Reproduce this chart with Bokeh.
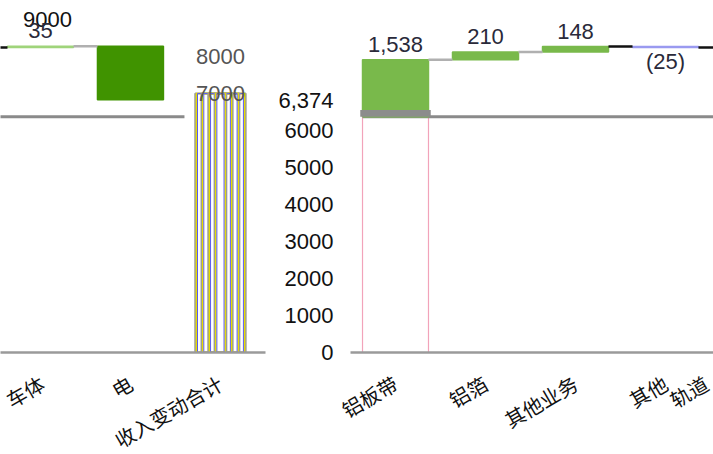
import math
from bokeh.plotting import figure
from bokeh.layouts import row
from bokeh.models import Range1d, FixedTicker, ColumnDataSource, LabelSet
from bokeh.core.properties import value
from bokeh.embed import file_html
from bokeh.resources import INLINE

# ---------------- data ----------------
categories = ["铝板带", "铝箔", "其他业务", "其他", "轨道交通车体", "电"]
changes = [1538, 210, 148, -25, 35, -1450]
change_labels = ["1,538", "210", "148", "(25)", "35", ""]
start_value = 6374
start_label = "6,374"
total_category = "收入变动合计"
total_value = 7000
y_ticks_right = [0, 1000, 2000, 3000, 4000, 5000, 6000]
y_ticks_left = [7000, 8000, 9000]
# the wrapped category is split across the two pieces
wrapped_left_part = "车体"
wrapped_right_part = "轨道"

# ---------------- styles ----------------
bar_colors = ["#79b94b", "#79b94b", "#79b94b", "#9a9af0", "#9fd47a", "#409300"]
connector_colors = ["#b0b0b0", "#b0b0b0", "#111111", "#111111", "#b0b0b0"]
BAR_W = 0.733
NUM_FONT = "Liberation Sans"
CJK_FONT = "Noto Sans CJK SC"
START_LABEL_LIFT = 440   # start label sits a little above the start value

# ---------------- derived ----------------
n = len(categories)
xs = list(range(n))
total_x = n
wrap_idx = categories.index("轨道交通车体")
bottoms, tops, running_after = [], [], []
run = start_value
for c in changes:
    nxt = run + c
    bottoms.append(min(run, nxt))
    tops.append(max(run, nxt))
    running_after.append(nxt)
    run = nxt

lab_y, lab_off = [], []
for i, c in enumerate(changes):
    if c >= 0:
        lab_y.append(tops[i]); lab_off.append(8)
    else:
        lab_y.append(bottoms[i]); lab_off.append(-27)


def bar_source(idx):
    return ColumnDataSource(dict(x=[xs[i] for i in idx], top=[tops[i] for i in idx],
                                 bottom=[bottoms[i] for i in idx],
                                 color=[bar_colors[i] for i in idx]))


def label_source(idx):
    return ColumnDataSource(dict(x=[xs[i] for i in idx], y=[lab_y[i] for i in idx],
                                 text=[change_labels[i] for i in idx],
                                 yoff=[lab_off[i] for i in idx]))


def conn_source(idx):
    return ColumnDataSource(dict(x0=[i + BAR_W / 2 for i in idx],
                                 x1=[i + 1 - BAR_W / 2 for i in idx],
                                 y=[running_after[i] for i in idx],
                                 color=[connector_colors[i] for i in idx]))


def draw_common(p, idx, cidx):
    p.segment(x0=-BAR_W / 2, x1=categories.index("电") + 0.6, y0=start_value, y1=start_value,
              line_color="#8a8a8a", line_width=3)
    p.vbar(x="x", top="top", bottom="bottom", width=BAR_W, fill_color="color",
           line_color="color", line_width=1.5, source=bar_source(idx))
    p.segment(x0="x0", x1="x1", y0="y", y1="y", line_color="color", line_width=2.5,
              source=conn_source(cidx))
    p.add_layout(LabelSet(x="x", y="y", text="text", y_offset="yoff", source=label_source(idx),
                          text_font=value(NUM_FONT), text_font_size="22px",
                          text_color="#2a2a3a", text_align="center", text_baseline="bottom"))


def style_x_axis(p, ticks, labels):
    ax = p.xaxis[0]
    ax.ticker = FixedTicker(ticks=ticks)
    ax.major_label_overrides = labels
    ax.major_label_orientation = math.pi / 6
    ax.major_label_text_font = CJK_FONT
    ax.major_label_text_font_size = "20px"
    ax.major_label_text_color = "#111111"
    ax.major_label_standoff = 29
    ax.major_tick_line_color = None
    ax.major_tick_out = 0
    ax.major_tick_in = 0
    ax.minor_tick_line_color = None
    ax.axis_line_color = "#9a9a9a"
    ax.axis_line_width = 2.5


Y_RANGE_END = 9514
FRAME_H = 352
L_FRAME_W = 265
R_FRAME_W = 363
L_START = 3.556
R_START = -0.5
R_END = R_START + R_FRAME_W / 90

pl = figure(output_backend="svg", toolbar_location=None,
            x_range=Range1d(L_START, L_START + L_FRAME_W / 90), y_range=Range1d(0, Y_RANGE_END),
            frame_width=L_FRAME_W, frame_height=FRAME_H, y_axis_location=None,
            min_border_left=0, min_border_right=10, min_border_top=0, min_border_bottom=0)
pr = figure(output_backend="svg", toolbar_location=None,
            x_range=Range1d(R_START, R_END), y_range=Range1d(0, Y_RANGE_END),
            frame_width=R_FRAME_W, frame_height=FRAME_H,
            min_border_left=72, min_border_right=0, min_border_top=0, min_border_bottom=0)

for p in (pl, pr):
    p.outline_line_color = None
    p.grid.grid_line_color = None
    p.background_fill_color = "white"
    p.border_fill_color = "white"

# ----- right piece -----
pr.vbar(x=0, top=start_value, bottom=0, width=BAR_W, fill_alpha=0,
        line_color="#f2a3ba", line_width=1.2)
r_idx = [i for i in xs if i < wrap_idx]
draw_common(pr, r_idx, r_idx)
pr.vbar(x=0, top=start_value + 180, bottom=start_value, width=BAR_W + 0.05,
        fill_color="#8c8c8c", line_color=None)
r_ticks = r_idx + [R_END]
r_labels = {i: categories[i] for i in r_idx}
r_labels[R_END] = wrapped_right_part
style_x_axis(pr, r_ticks, r_labels)

# ----- left piece -----
l_idx = [i for i in xs if i >= wrap_idx]
draw_common(pl, l_idx, [wrap_idx - 1, wrap_idx])
for w in [0.56, 0.42, 0.27, 0.13]:
    pl.vbar(x=total_x, top=total_value, bottom=0, width=w, fill_alpha=0,
            line_color="#9a9a9a", line_width=2)
    pl.vbar(x=total_x, top=total_value, bottom=0, width=w - 0.025, fill_alpha=0,
            line_color="#e6dc00", line_width=1.5)
    pl.vbar(x=total_x, top=total_value, bottom=0, width=w - 0.05, fill_alpha=0,
            line_color="#5a5af0", line_width=1)
left_tick_src = ColumnDataSource(dict(
    x=[total_x, total_x, wrap_idx],
    y=y_ticks_left,
    text=[str(v) for v in y_ticks_left],
    color=["#555555", "#555555", "#111111"],
    xoff=[0, 0, 7],
))
pl.text(x="x", y="y", text="text", x_offset="xoff", text_color="color",
        text_font=value(NUM_FONT), text_font_size="22px",
        text_align="center", text_baseline="middle", source=left_tick_src)
l_labels = {i: categories[i] for i in l_idx}
l_labels[wrap_idx] = wrapped_left_part
l_labels[total_x] = total_category
style_x_axis(pl, l_idx + [total_x], l_labels)

# ----- value axis -----
start_tick = start_value + START_LABEL_LIFT
ya = pr.yaxis[0]
ya.ticker = FixedTicker(ticks=y_ticks_right + [start_tick])
ya.major_label_overrides = {start_tick: start_label}
ya.major_label_text_font = NUM_FONT
ya.major_label_text_font_size = "22px"
ya.major_label_text_color = "#111111"
ya.major_label_standoff = 17
ya.major_tick_out = 0
ya.major_tick_in = 0
ya.major_tick_line_color = None
ya.minor_tick_line_color = None
ya.axis_line_color = None

layout = row(pl, pr)
open("out.html", "w").write(file_html(layout, INLINE))
